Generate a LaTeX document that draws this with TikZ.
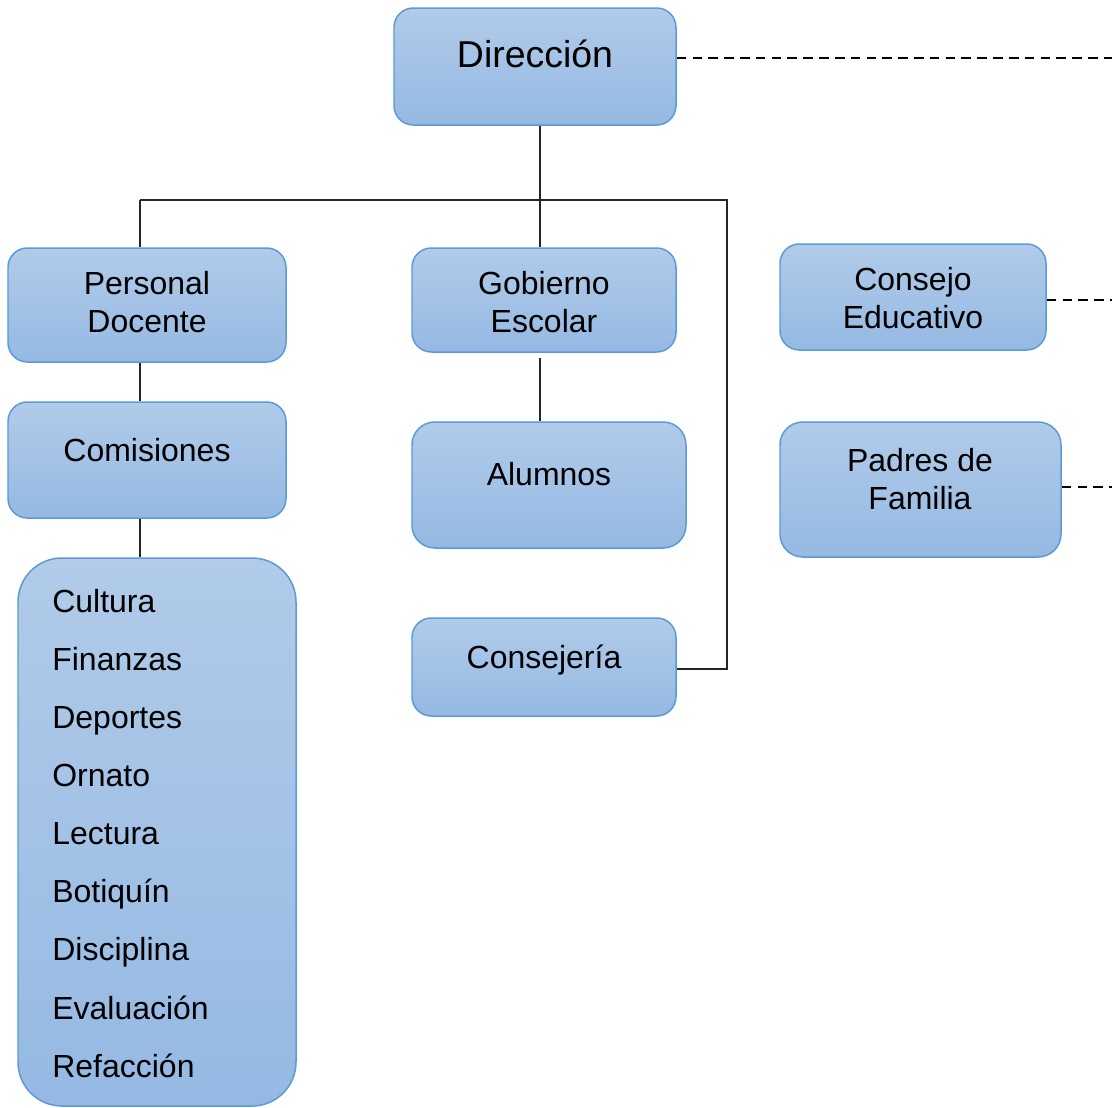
\documentclass[tikz,border=0pt]{standalone}
\usepackage{fontspec}
\setmainfont{Liberation Sans}
\definecolor{cajaborde}{HTML}{5B9BD5}
\definecolor{cajaarriba}{HTML}{B1CBE9}
\definecolor{cajaabajo}{HTML}{95B9E3}
\tikzstyle{every node}+=[inner sep=0pt]
\tikzstyle{caja}=[draw=cajaborde, line width=0.85pt, top color=cajaarriba, bottom color=cajaabajo, rounded corners=11pt]
\tikzstyle{texto}=[anchor=base, align=center, font=\fontsize{18.2}{21.3}\selectfont]
\tikzstyle{item}=[anchor=base west, font=\fontsize{18.2}{21.3}\selectfont]
\tikzstyle{linea}=[black!85, line width=0.8pt]
\tikzstyle{punteada}=[black, line width=0.8pt, dash pattern=on 5.5pt off 3.5pt]

\begin{document}
\begin{tikzpicture}[x=0.2mm, y=-0.2mm]
\useasboundingbox (0,0) rectangle (1112,1108);

% cajas
\node [caja, minimum width=56.4mm, minimum height=23.4mm] (dir) at (535,66.5) {};
\node [caja, minimum width=55.6mm, minimum height=22.8mm] (per) at (147,305) {};
\node [caja, minimum width=55.6mm, minimum height=23.2mm] (com) at (147,460) {};
\node [caja, minimum width=55.6mm, minimum height=109.6mm, rounded corners=25pt] (lista) at (157,832) {};
\node [caja, minimum width=52.8mm, minimum height=20.8mm] (gob) at (544,300) {};
\node [caja, minimum width=54.8mm, minimum height=25.2mm, rounded corners=13pt] (alu) at (549,485) {};
\node [caja, minimum width=52.8mm, minimum height=19.6mm] (cjr) at (544,667) {};
\node [caja, minimum width=53.2mm, minimum height=21.2mm] (cons) at (913,297) {};
\node [caja, minimum width=56.2mm, minimum height=27mm, rounded corners=13pt] (pad) at (920.5,489.5) {};

% textos (base = ultima linea)
\node [texto, font=\fontsize{21.3}{25}\selectfont] (dirt) at (535,67) {Dirección};
\node [texto] (pert) at (147,332) {Personal\\Docente};
\node [texto] (comt) at (147,461) {Comisiones};
\node [texto] (gobt) at (544,332) {Gobierno\\Escolar};
\node [texto] (alut) at (549,485) {Alumnos};
\node [texto] (cjrt) at (544,668) {Consejería};
\node [texto] (const) at (913,328) {Consejo\\Educativo};
\node [texto] (padt) at (920,509) {Padres de\\Familia};

\node [item] (l1) at (52,612) {Cultura};
\node [item] (l2) at (52,670) {Finanzas};
\node [item] (l3) at (52,728) {Deportes};
\node [item] (l4) at (52,786) {Ornato};
\node [item] (l5) at (52,844) {Lectura};
\node [item] (l6) at (52,902) {Botiquín};
\node [item] (l7) at (52,960) {Disciplina};
\node [item] (l8) at (52,1019) {Evaluación};
\node [item] (l9) at (52,1077) {Refacción};

% conectores
\coordinate (bizq) at (140,200);
\coordinate (bder) at (727,200);
\coordinate (borde) at (1112,0);

\draw [linea] ([xshift=1mm]dir.south) -- ([xshift=1mm]dir.south |- gob.north);
\draw [linea] (bizq) -- (bder) -- ([yshift=-0.4mm]bder |- cjr.east) -- ([yshift=-0.4mm]cjr.east);
\draw [linea] (bizq) -- (bizq |- per.north);
\draw [linea] (bizq |- per.south) -- (bizq |- com.north);
\draw [linea] (bizq |- com.south) -- (bizq |- lista.north);
\draw [linea] ([xshift=-0.8mm,yshift=-1mm]gob.south) -- ([xshift=-0.8mm]gob.south |- alu.north);

\draw [punteada] ([yshift=1.7mm]dir.east) -- ([yshift=1.7mm]dir.east -| borde);
\draw [punteada] ([yshift=-0.6mm]cons.east) -- ([yshift=-0.6mm]cons.east -| borde);
\draw [punteada] ([yshift=0.5mm]pad.east) -- ([yshift=0.5mm]pad.east -| borde);
\end{tikzpicture}
\end{document}
